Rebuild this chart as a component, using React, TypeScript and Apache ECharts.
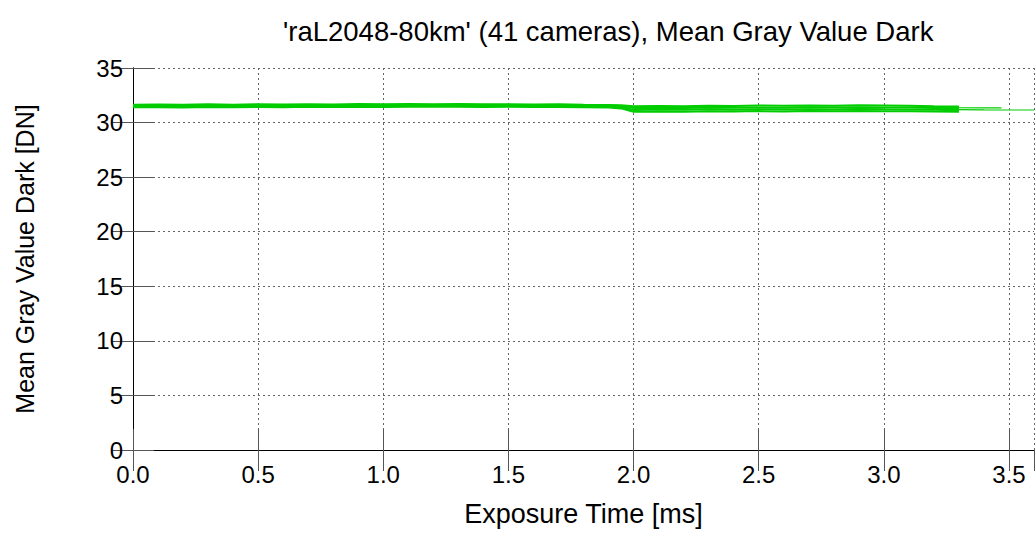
import React, { useEffect, useRef } from "react";
import * as echarts from "echarts";

const titleText = "'raL2048-80km' (41 cameras), Mean Gray Value Dark";
const xName = "Exposure Time [ms]";
const yName = "Mean Gray Value Dark [DN]";

const exposureMs = [0.0, 0.1, 0.2, 0.3, 0.4, 0.5, 0.6, 0.7, 0.8, 0.9, 1.0, 1.1, 1.2, 1.3, 1.4, 1.5, 1.6, 1.7, 1.8, 1.9, 1.95, 2.0, 2.1, 2.2, 2.3, 2.4, 2.5, 2.6, 2.7, 2.8, 2.9, 3.0, 3.1, 3.2, 3.3];

const camUpper = [31.64, 31.66, 31.63, 31.67, 31.64, 31.68, 31.65, 31.69, 31.66, 31.7, 31.67, 31.71, 31.68, 31.7, 31.67, 31.69, 31.66, 31.67, 31.64, 31.62, 31.58, 31.5, 31.52, 31.5, 31.55, 31.51, 31.56, 31.53, 31.57, 31.54, 31.58, 31.56, 31.54, 31.5, 31.47];
const camMidHigh = [31.54, 31.56, 31.55, 31.58, 31.55, 31.59, 31.56, 31.59, 31.57, 31.61, 31.58, 31.61, 31.59, 31.61, 31.58, 31.6, 31.57, 31.58, 31.55, 31.53, 31.48, 31.33, 31.36, 31.34, 31.37, 31.35, 31.39, 31.36, 31.4, 31.37, 31.41, 31.38, 31.37, 31.34, 31.31];
const camMidLow = [31.46, 31.48, 31.46, 31.49, 31.47, 31.5, 31.48, 31.51, 31.49, 31.52, 31.5, 31.53, 31.51, 31.53, 31.5, 31.52, 31.49, 31.5, 31.47, 31.45, 31.38, 31.16, 31.19, 31.17, 31.21, 31.18, 31.22, 31.19, 31.23, 31.2, 31.24, 31.21, 31.2, 31.17, 31.14];
const camLower = [31.4, 31.41, 31.39, 31.42, 31.4, 31.43, 31.41, 31.44, 31.42, 31.45, 31.43, 31.46, 31.44, 31.46, 31.43, 31.45, 31.42, 31.43, 31.4, 31.38, 31.3, 30.99, 31.02, 31.0, 31.04, 31.01, 31.05, 31.02, 31.06, 31.03, 31.07, 31.04, 31.03, 31.01, 31.0];

const tailLongX = [3.2, 3.3, 3.4, 3.5, 3.6];
const tailLongY = [31.2, 31.18, 31.16, 31.15, 31.15];
const tailShortX = [3.2, 3.3, 3.4, 3.47];
const tailShortY = [31.38, 31.36, 31.35, 31.34];

const FONT = "'Liberation Sans', Arial, Helvetica, sans-serif";
const GREEN = "#00cc00";

function pairs(xs: number[], ys: number[]) {
  return xs.map((x, i) => [x, ys[i]]);
}

export default function App() {
  const ref = useRef<HTMLDivElement>(null);
  useEffect(() => {
    if (!ref.current) return;
    const chart = echarts.init(ref.current, undefined, { renderer: "svg" });
    const lineSeries = (data: number[][], width: number) => ({
      type: "line",
      data,
      showSymbol: false,
      symbol: "none",
      lineStyle: { color: GREEN, width },
      silent: true,
    });
    const tickStyle = { color: "#555", width: 1 };
    chart.setOption({
      animation: false,
      backgroundColor: "#fff",
      title: {
        text: titleText,
        left: 278,
        top: 12,
        textStyle: { fontFamily: FONT, fontSize: 27.5, fontWeight: "normal", color: "#000" },
      },
      grid: { left: 133, right: 1, top: 68, bottom: 109, containLabel: false },
      xAxis: [
        {
          type: "value",
          min: 0,
          max: 3.6,
          interval: 0.5,
          position: "bottom",
          name: xName,
          nameLocation: "middle",
          nameGap: 50,
          nameTextStyle: { fontFamily: FONT, fontSize: 27, color: "#000" },
          axisLine: { show: true, lineStyle: { color: "#000", width: 1 } },
          axisTick: { show: true, inside: true, length: 21, lineStyle: tickStyle },
          axisLabel: {
            fontFamily: FONT,
            fontSize: 24,
            color: "#000",
            margin: 12,
            formatter: (v: number) => v.toFixed(1),
            showMaxLabel: false,
          },
          splitLine: { show: true, lineStyle: { color: "#666", type: [2, 3], width: 1 } },
        },
        {
          type: "value",
          min: 0,
          max: 3.6,
          interval: 0.5,
          position: "top",
          axisLine: { show: true, lineStyle: { color: "#000", width: 1 } },
          axisTick: { show: true, inside: true, length: 21, lineStyle: tickStyle },
          axisLabel: { show: false },
          splitLine: { show: false },
        },
      ],
      yAxis: [
        {
          type: "value",
          min: 0,
          max: 35,
          interval: 5,
          position: "left",
          name: yName,
          nameLocation: "middle",
          nameGap: 96,
          nameTextStyle: { fontFamily: FONT, fontSize: 25, color: "#000" },
          axisLine: { show: true, lineStyle: { color: "#000", width: 1 } },
          axisTick: { show: true, inside: true, length: 21, lineStyle: tickStyle },
          axisLabel: { fontFamily: FONT, fontSize: 24, color: "#000", margin: 10, lineHeight: 20 },
          splitLine: { show: true, lineStyle: { color: "#666", type: [2, 3], width: 1 } },
        },
        {
          type: "value",
          min: 0,
          max: 35,
          interval: 5,
          position: "right",
          axisLine: { show: true, lineStyle: { color: "#000", width: 1 } },
          axisTick: { show: true, inside: true, length: 21, lineStyle: tickStyle },
          axisLabel: { show: false },
          splitLine: { show: false },
        },
      ],
      series: [
        lineSeries(pairs(exposureMs, camUpper), 2),
        lineSeries(pairs(exposureMs, camMidHigh), 2),
        lineSeries(pairs(exposureMs, camMidLow), 2),
        lineSeries(pairs(exposureMs, camLower), 2),
        lineSeries(pairs(tailShortX, tailShortY), 1.2),
        lineSeries(pairs(tailLongX, tailLongY), 1.2),
      ],
    });
    return () => chart.dispose();
  }, []);
  return (
    <div style={{ position: "absolute", left: 0, top: 0, width: 1035, height: 559, overflow: "hidden", background: "#fff" }}>
      <div ref={ref} style={{ width: 1035, height: 559 }} />
    </div>
  );
}
